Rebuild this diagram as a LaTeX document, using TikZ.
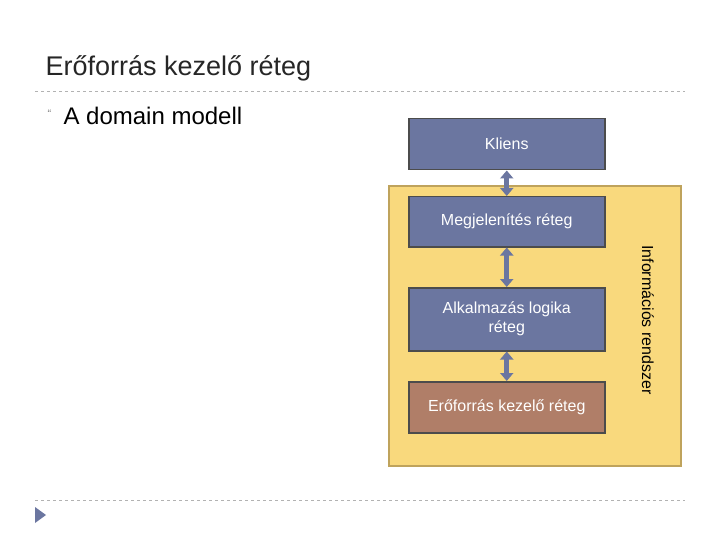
\documentclass[tikz,border=0pt]{standalone}
\usepackage{fontspec}
\setmainfont{Liberation Sans}
\usetikzlibrary{arrows.meta}
\definecolor{boxblue}{HTML}{6B76A0}
\definecolor{boxbrown}{HTML}{B07E68}
\definecolor{yel}{HTML}{F9D97D}
\definecolor{yelb}{HTML}{BFA35C}
\begin{document}
\begin{tikzpicture}[x=1pt,y=-1pt,
  layer/.style={draw=black!70,line width=1.5pt,fill=boxblue,text=white,font=\fontsize{16}{19}\selectfont,align=center,minimum width=196pt,inner sep=0pt,anchor=north west},
  dbl/.style={line width=5pt,boxblue,{Triangle[width=13pt,length=8pt]}-{Triangle[width=13pt,length=8pt]}},
  sep/.style={gray!60,dashed,line width=0.8pt}]
\useasboundingbox (0,0) rectangle (720,540);
\fill[white] (0,0) rectangle (720,540);
\node[anchor=west,font=\fontsize{27}{30}\selectfont,text=black!85] (title) at (42,68) {Erőforrás kezelő réteg};
\draw[sep] (35,91) -- (685,91);
\node[anchor=west,font=\fontsize{11}{12}\selectfont,text=gray] (bul) at (44,114) {“};
\node[anchor=west,font=\fontsize{24}{27}\selectfont] (sub) at (60,116) {A domain modell};
\node[draw=yelb,line width=2pt,fill=yel,minimum width=292pt,minimum height=280pt,anchor=north west,inner sep=0pt] (is) at (388,185) {};
\node[layer,minimum height=51pt] (kl) at (408,118) {Kliens};
\node[layer,minimum height=50pt] (mj) at (408,196) {Megjelenítés réteg};
\node[layer,minimum height=63pt] (al) at (408,287) {Alkalmazás logika\\réteg};
\node[layer,fill=boxbrown,minimum height=51pt] (er) at (408,381) {Erőforrás kezelő réteg};
\draw[dbl] (kl.south) -- (mj.north);
\draw[dbl] (mj.south) -- (al.north);
\draw[dbl] (al.south) -- (er.north);
\node[rotate=-90,font=\fontsize{16}{19}\selectfont] (isl) at (648,320) {Információs rendszer};
\draw[sep] (35,500) -- (685,500);
\fill[boxblue] (35,507) -- (46,515) -- (35,523) -- cycle;
\end{tikzpicture}
\end{document}
